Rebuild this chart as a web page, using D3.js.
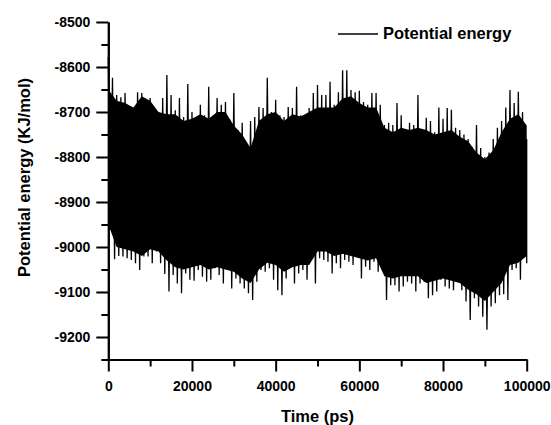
<!DOCTYPE html>
<html>
<head>
<meta charset="utf-8">
<script src="https://cdn.jsdelivr.net/npm/d3@7"></script>
<style>
  html, body { margin: 0; padding: 0; background: #fff; }
  svg { display: block; }
  text { font-family: "Liberation Sans", Arial, sans-serif; font-weight: bold; fill: #000; }
</style>
</head>
<body>
<svg id="chart" width="551" height="425"></svg>
<script>
// ---- data ----
// sample times (ps), one bin every 1000 ps
const timeStart = 0, timeEnd = 100000, timeStep = 1000;
// upper extreme of the energy signal in each 1000 ps bin (kJ/mol)
const upperEnvelope = [
  -8578, -8624, -8662, -8667, -8658, -8707, -8691, -8656, -8658, -8678,
  -8669, -8689, -8700, -8669, -8618, -8662, -8696, -8669, -8711, -8638,
  -8700, -8718, -8684, -8707, -8644, -8716, -8669, -8684, -8678, -8716,
  -8658, -8740, -8724, -8780, -8720, -8711, -8689, -8691, -8624, -8700,
  -8673, -8707, -8711, -8689, -8691, -8644, -8707, -8707, -8691, -8658,
  -8640, -8662, -8662, -8633, -8684, -8656, -8607, -8607, -8651, -8656,
  -8653, -8678, -8684, -8658, -8658, -8684, -8729, -8724, -8729, -8680,
  -8707, -8740, -8724, -8729, -8662, -8740, -8713, -8720, -8745, -8690,
  -8715, -8691, -8695, -8735, -8740, -8750, -8760, -8778, -8729, -8780,
  -8800, -8790, -8760, -8735, -8720, -8690, -8651, -8680, -8655, -8700,
  -8760
];
// lower extreme of the energy signal in each 1000 ps bin (kJ/mol)
const lowerEnvelope = [
  -8960, -9027, -9020, -9021, -9025, -9029, -9036, -9051, -9021, -9021,
  -9036, -9010, -9036, -9060, -9099, -9062, -9081, -9103, -9059, -9073,
  -9075, -9051, -9066, -9077, -9073, -9047, -9062, -9081, -9051, -9092,
  -9070, -9081, -9092, -9103, -9118, -9077, -9051, -9055, -9047, -9073,
  -9096, -9107, -9070, -9044, -9081, -9059, -9051, -9073, -9029, -9081,
  -9025, -9029, -9033, -9059, -9036, -9047, -9029, -9033, -9040, -9018,
  -9070, -9044, -9051, -9033, -9055, -9044, -9118, -9085, -9085, -9099,
  -9088, -9077, -9081, -9099, -9081, -9077, -9114, -9107, -9099, -9073,
  -9088, -9092, -9096, -9073, -9096, -9121, -9162, -9114, -9132, -9155,
  -9184, -9132, -9125, -9107, -9105, -9118, -9051, -9047, -9073, -9018,
  -9036
];
// solid (dense) part of the band, every 2000 ps
const coreStep = 2000;
const coreTop = [
  -8650, -8675, -8680, -8690, -8665, -8675, -8700, -8705, -8705, -8720,
  -8715, -8705, -8715, -8700, -8700, -8730, -8750, -8780, -8720, -8705,
  -8700, -8720, -8705, -8710, -8700, -8690, -8690, -8690, -8670, -8665,
  -8680, -8690, -8690, -8735, -8745, -8735, -8740, -8735, -8740, -8750,
  -8745, -8740, -8755, -8765, -8790, -8805, -8785, -8745, -8715, -8705,
  -8730
];
const coreBottom = [
  -8950, -9000, -9005, -9010, -9020, -9005, -9010, -9030, -9045, -9050,
  -9045, -9040, -9050, -9045, -9050, -9055, -9070, -9080, -9050, -9035,
  -9040, -9055, -9045, -9040, -9040, -9010, -9010, -9020, -9015, -9020,
  -9025, -9030, -9025, -9065, -9070, -9065, -9065, -9065, -9080, -9075,
  -9070, -9075, -9080, -9095, -9105, -9120, -9100, -9080, -9040, -9035,
  -9020
];

const yMajorTicks = [-8500, -8600, -8700, -8800, -8900, -9000, -9100, -9200];
const yMinorTicks = [-8550, -8650, -8750, -8850, -8950, -9050, -9150, -9250];
const xMajorTicks = [0, 20000, 40000, 60000, 80000, 100000];
const xMinorTicks = [10000, 30000, 50000, 70000, 90000];

const seriesName = "Potential energy";
const xTitle = "Time (ps)";
const yTitle = "Potential energy (KJ/mol)";

// ---- drawing ----
const svg = d3.select("#chart");
const x = d3.scaleLinear().domain([0, 100000]).range([108.3, 526.7]);
const y = d3.scaleLinear().domain([-9250, -8500]).range([359.5, 22]);

// signal trace: upper extreme then lower extreme in each bin
const times = d3.range(timeStart, timeEnd + 1, timeStep);
const trace = [];
times.forEach((t, i) => {
  trace.push([t, upperEnvelope[i]]);
  trace.push([Math.min(t + timeStep / 2, timeEnd), lowerEnvelope[i]]);
});

const core = coreTop.map((v, i) => ({ t: i * coreStep, top: v, bottom: coreBottom[i] }));

svg.append("path")
  .datum(core)
  .attr("fill", "#000")
  .attr("d", d3.area().x(d => x(d.t)).y0(d => y(d.bottom)).y1(d => y(d.top)));

svg.append("path")
  .datum(trace)
  .attr("fill", "none")
  .attr("stroke", "#000")
  .attr("stroke-width", 1.3)
  .attr("d", d3.line().x(d => x(d[0])).y(d => y(d[1])));

// axes
const fmt = d => String(d);
svg.append("g").attr("transform", "translate(108.3,0)")
  .call(d3.axisLeft(y).tickValues(yMinorTicks).tickSize(7).tickSizeOuter(0).tickFormat(""));
svg.append("g").attr("transform", "translate(108.3,0)")
  .call(d3.axisLeft(y).tickValues(yMajorTicks).tickSize(12).tickSizeOuter(0).tickPadding(6).tickFormat(fmt));
svg.append("g").attr("transform", "translate(0,359.5)")
  .call(d3.axisBottom(x).tickValues(xMinorTicks).tickSize(7).tickSizeOuter(0).tickFormat(""));
svg.append("g").attr("transform", "translate(0,359.5)")
  .call(d3.axisBottom(x).tickValues(xMajorTicks).tickSize(12).tickSizeOuter(0).tickPadding(10).tickFormat(fmt));

svg.selectAll(".domain").attr("stroke", "#000").attr("stroke-width", 2);
svg.selectAll(".tick line").attr("stroke", "#000").attr("stroke-width", 2);
svg.selectAll(".tick text")
  .style("font-family", '"Liberation Sans", Arial, sans-serif')
  .style("font-weight", "bold")
  .style("font-size", "14px")
  .attr("fill", "#000");

// titles
svg.append("text")
  .attr("x", 317.5).attr("y", 421.5)
  .attr("text-anchor", "middle")
  .style("font-size", "16.5px")
  .text(xTitle);

svg.append("text")
  .attr("transform", "translate(30,177.5) rotate(-90)")
  .attr("text-anchor", "middle")
  .style("font-size", "16.5px")
  .text(yTitle);

// legend
svg.append("line")
  .attr("x1", 338).attr("x2", 378).attr("y1", 34).attr("y2", 34)
  .attr("stroke", "#000").attr("stroke-width", 1.3);
svg.append("text")
  .attr("x", 383).attr("y", 38.5)
  .style("font-size", "16.5px")
  .text(seriesName);
</script>
</body>
</html>
